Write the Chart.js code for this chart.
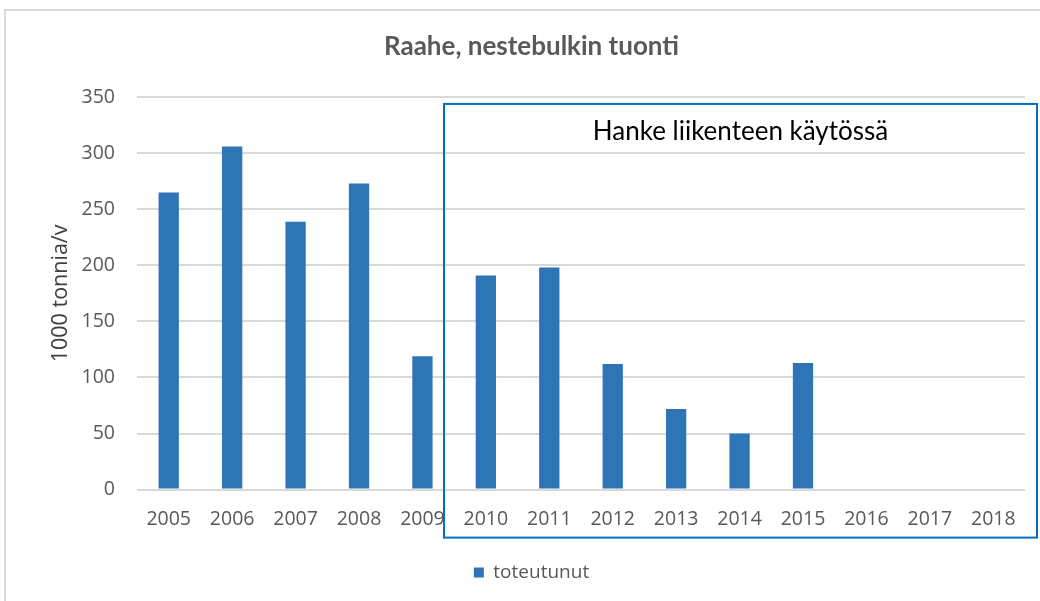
<!DOCTYPE html>
<html>
<head>
<meta charset="utf-8">
<script src="https://cdn.jsdelivr.net/npm/chart.js@4"></script>
<style>
html,body{margin:0;padding:0;background:#fff;}
#wrap{width:1040px;height:601px;}
</style>
</head>
<body>
<div id="wrap"><canvas id="c" width="1040" height="601"></canvas></div>
<script>
const years = ['2005','2006','2007','2008','2009','2010','2011','2012','2013','2014','2015','2016','2017','2018'];
const toteutunut = [265, 306, 239, 273, 119, 191, 198, 112, 72, 50, 113, null, null, null];
const yTicks = [0, 50, 100, 150, 200, 250, 300, 350];
const chartTitle = 'Raahe, nestebulkin tuonti';
const yTitle = '1000 tonnia/v';
const seriesName = 'toteutunut';
const boxLabel = 'Hanke liikenteen käytössä';
const boxFromYear = '2010';

const frame = {
  id: 'frame',
  beforeDraw(chart) {
    const ctx = chart.ctx;
    ctx.save();
    ctx.strokeStyle = '#d9d9d9';
    ctx.lineWidth = 2;
    ctx.beginPath();
    ctx.moveTo(5, 601);
    ctx.lineTo(5, 10);
    ctx.lineTo(1040, 10);
    ctx.stroke();
    ctx.restore();
  },
  afterDraw(chart) {
    const ctx = chart.ctx;
    const x = chart.scales.x, y = chart.scales.y;
    const idx = years.indexOf(boxFromYear);
    const step = x.getPixelForValue(1) - x.getPixelForValue(0);
    const left = x.getPixelForValue(idx) - step * 0.66;
    const right = chart.chartArea.right + 12;
    const top = y.getPixelForValue(344);
    const bottom = y.getPixelForValue(0) + 48;
    ctx.save();
    ctx.strokeStyle = '#0070C0';
    ctx.lineWidth = 2;
    ctx.strokeRect(left, top, right - left, bottom - top);
    ctx.fillStyle = '#000000';
    ctx.font = '26px Lato';
    ctx.textAlign = 'center';
    ctx.textBaseline = 'middle';
    ctx.fillText(boxLabel, (left + right) / 2, top + 28);
    ctx.restore();
  }
};

new Chart(document.getElementById('c'), {
  type: 'bar',
  data: {
    labels: years,
    datasets: [{
      label: seriesName,
      data: toteutunut,
      backgroundColor: '#2E75B6',
      borderWidth: 0,
      categoryPercentage: 1,
      barPercentage: 0.32
    }]
  },
  options: {
    responsive: false,
    animation: false,
    devicePixelRatio: 1,
    layout: { padding: { left: 38, right: 15, top: 0, bottom: 9 } },
    plugins: {
      title: {
        display: true,
        text: chartTitle,
        color: '#595959',
        font: { family: 'Lato', size: 26, weight: 'bold' },
        padding: { top: 31, bottom: 35 }
      },
      legend: {
        display: true,
        position: 'bottom',
        labels: {
          boxWidth: 10, boxHeight: 10,
          color: '#595959',
          font: { family: 'Open Sans', size: 19 },
          padding: 14
        }
      },
      tooltip: { enabled: false }
    },
    scales: {
      x: {
        grid: { display: false, drawTicks: false },
        border: { display: false },
        ticks: { color: '#595959', font: { family: 'Open Sans', size: 19.5 }, padding: 18, maxRotation: 0, autoSkip: false }
      },
      y: {
        min: 0, max: 350,
        afterBuildTicks(scale) { scale.ticks = yTicks.map(v => ({ value: v })); },
        afterFit(scale) { scale.width = 99; },
        grid: { color: '#d9d9d9', lineWidth: 2, drawTicks: false },
        border: { display: false },
        ticks: { color: '#595959', font: { family: 'Open Sans', size: 19.5 }, padding: 22 },
        title: {
          display: true, text: yTitle, color: '#404040',
          font: { family: 'Open Sans', size: 21.5 },
          padding: { top: 10, bottom: 0 }
        }
      }
    }
  },
  plugins: [frame]
});
</script>
</body>
</html>
